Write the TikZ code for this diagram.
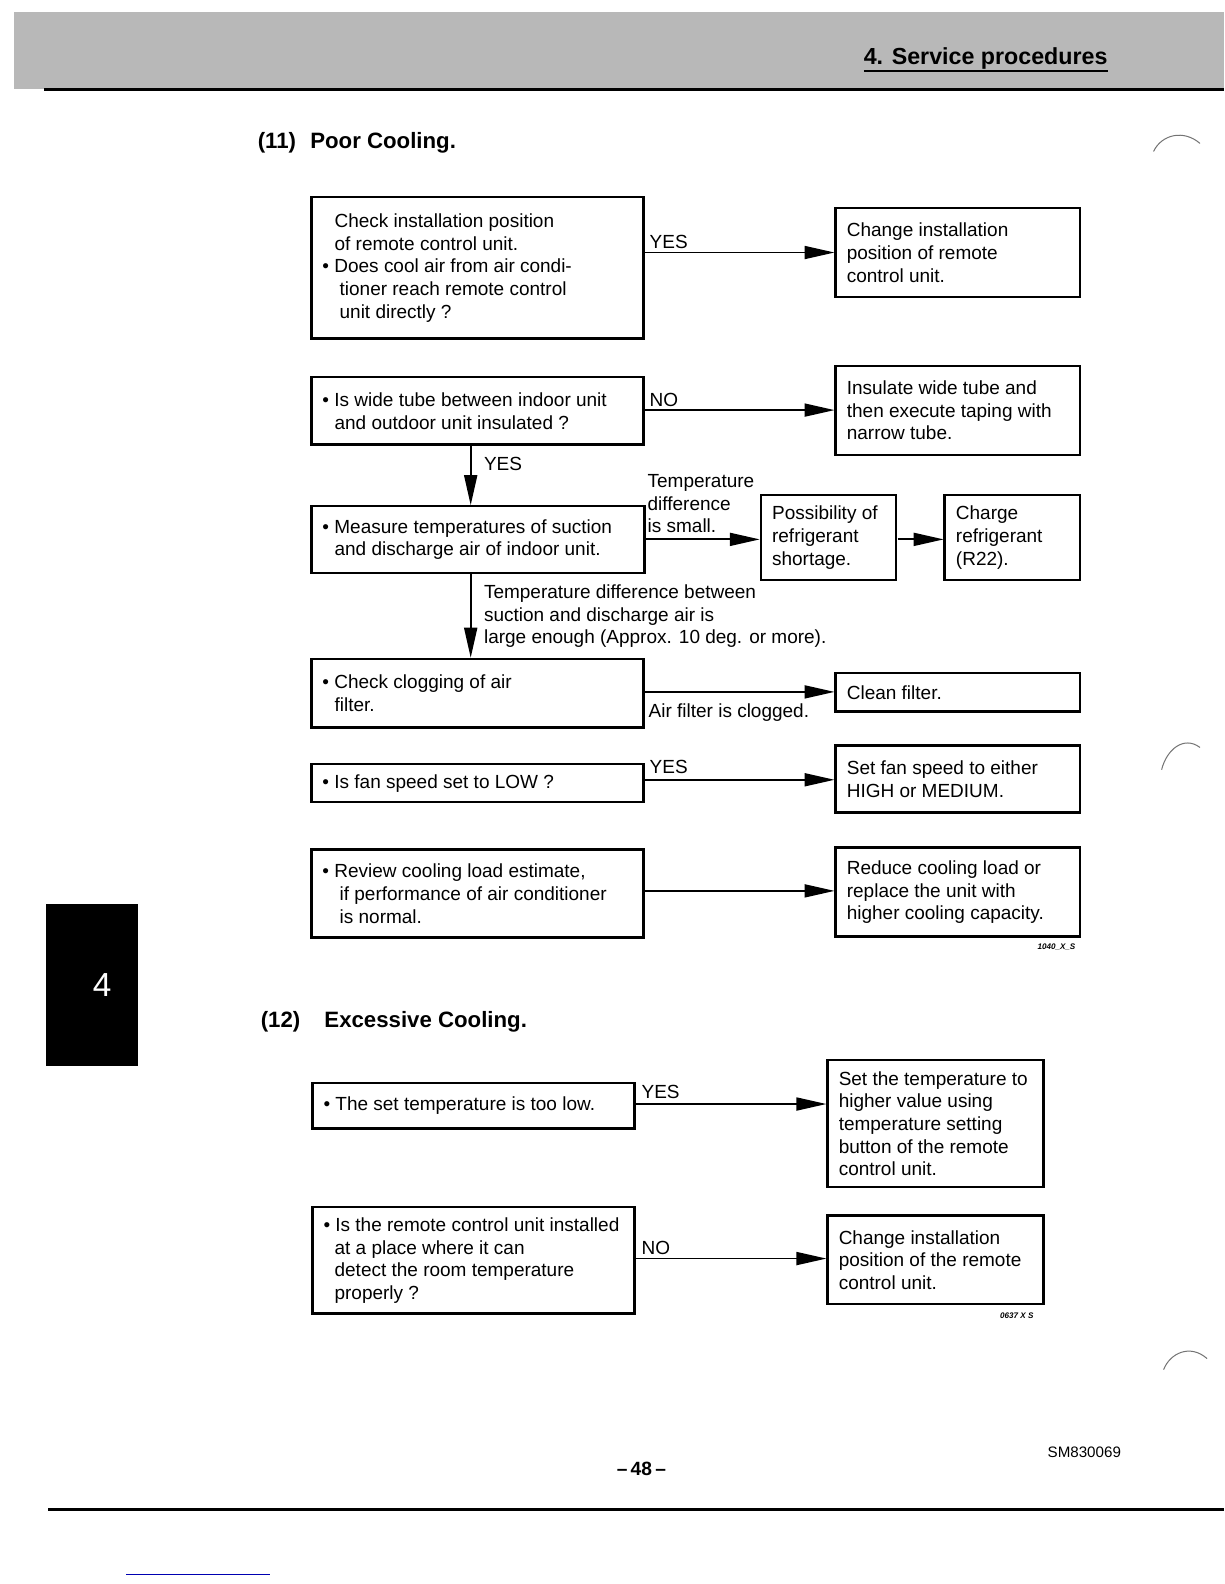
\documentclass[tikz,border=0pt]{standalone}
\usepackage{fontspec}
\setmainfont{Liberation Sans}
\usetikzlibrary{arrows.meta,calc}
\begin{document}
\begin{tikzpicture}[x=1pt,y=-1pt,scale=1.0101,transform shape,
  box/.style={draw, line width=2.4pt, anchor=north west, inner sep=0pt},
  txt/.style={font=\fontsize{18.8}{22.5}\selectfont, align=left, inner sep=0pt, anchor=west},
  lbl/.style={font=\fontsize{18.8}{22.5}\selectfont, inner sep=0pt, anchor=base west},
  mlbl/.style={font=\fontsize{18.8}{22.5}\selectfont, align=left, inner sep=0pt, anchor=north west},
  ttl/.style={font=\fontsize{22}{26}\selectfont\bfseries, inner sep=0pt, anchor=base west},
  code/.style={font=\fontsize{8}{9}\selectfont\bfseries\itshape, inner sep=0pt, anchor=base west},
  arr/.style={line width=1.8pt, -{Triangle[length=30pt,width=13pt]}},
  bindermark/.style={draw=black!55, line width=1pt}]
\useasboundingbox (0,0) rectangle (1211.8,1568.2);
\fill[white] (0,0) rectangle (1211.8,1568.2);
% header
\fill[black!28] (14,12) rectangle (1211.8,88);
\draw[line width=3pt] (44,89) -- (1211.8,89);
\node[font=\fontsize{23}{26}\selectfont\bfseries, inner sep=0pt, anchor=base west] (hdr) at (855,64) {4. Service procedures};
\draw[line width=2pt] (hdr.south west |- 0,70) -- (hdr.south east |- 0,70);
% side tab
\fill[black] (46,895) rectangle (137,1055);
\node[white, font=\fontsize{33}{33}\selectfont, inner sep=0pt] (tab) at (101,975) {4};
% binder marks
\draw[bindermark] (1142,150) .. controls (1150,133) and (1172,128) .. (1188,142);
\draw[bindermark] (1150,762) .. controls (1155,742) and (1172,728) .. (1188,740);
\draw[bindermark] (1152,1356) .. controls (1158,1340) and (1178,1330) .. (1195,1345);

% ---------------- (11) ----------------
\node[ttl] (t11a) at (255,147) {(11)};
\node[ttl] (t11b) at (307,147) {Poor Cooling.};

\node[box, minimum width=329pt, minimum height=140pt] (A) at (307,194) {};
\node[txt] (At) at ($(A.west)+(12,0)$) {\hspace*{12pt}Check installation position\\\hspace*{12pt}of remote control unit.\\• Does cool air from air condi-\\\hspace*{17pt}tioner reach remote control\\\hspace*{17pt}unit directly ?};
\node[box, minimum width=242pt, minimum height=88pt] (B) at (826,205) {};
\node[txt] (Bt) at ($(B.west)+(12,0)$) {Change installation\\position of remote\\control unit.};
\draw[arr] (A.east |- 0,250) -- (B.west |- 0,250);
\node[lbl] (yes1) at (643,246) {YES};

\node[box, minimum width=329pt, minimum height=67pt] (C) at (307,372) {};
\node[txt] (Ct) at ($(C.west)+(12,0)$) {• Is wide tube between indoor unit\\\hspace*{12pt}and outdoor unit insulated ?};
\node[box, minimum width=242pt, minimum height=88pt] (D) at (826,361) {};
\node[txt] (Dt) at ($(D.west)+(12,0)$) {Insulate wide tube and\\then execute taping with\\narrow tube.};
\draw[arr] (C.east |- 0,406) -- (D.west |- 0,406);
\node[lbl] (no1) at (643,402) {NO};

\node[box, minimum width=330pt, minimum height=66pt] (E) at (307,500) {};
\node[txt] (Et) at ($(E.west)+(12,0)$) {• Measure temperatures of suction\\\hspace*{12pt}and discharge air of indoor unit.};
\draw[arr] (466,0 |- C.south) -- (466,0 |- E.north);
\node[lbl] (yes2) at (479,466) {YES};

\node[box, minimum width=134pt, minimum height=84pt] (F) at (752,489) {};
\node[txt] (Ft) at ($(F.west)+(12,0)$) {Possibility of\\refrigerant\\shortage.};
\node[box, minimum width=134pt, minimum height=84pt] (G) at (934,489) {};
\node[txt] (Gt) at ($(G.west)+(12,0)$) {Charge\\refrigerant\\(R22).};
\draw[arr] (E.east |- 0,534) -- (F.west |- 0,534);
\draw[arr] (F.east |- 0,534) -- (G.west |- 0,534);
\node[mlbl] (small) at (641,469.5) {Temperature\\difference\\is small.};

\node[box, minimum width=329pt, minimum height=68pt] (H) at (307,651) {};
\node[txt] (Ht) at ($(H.west)+(12,0)$) {• Check clogging of air\\\hspace*{12pt}filter.};
\draw[arr] (466,0 |- E.south) -- (466,0 |- H.north);
\node[mlbl] (large) at (479,578.5) {Temperature difference between\\suction and discharge air is\\large enough (Approx. 10 deg. or more).};

\node[box, minimum width=242pt, minimum height=38pt] (I) at (826,665) {};
\node[txt] (It) at ($(I.west)+(12,0)$) {Clean filter.};
\draw[arr] (H.east |- 0,685) -- (I.west |- 0,685);
\node[lbl] (clog) at (642,710) {Air filter is clogged.};

\node[box, minimum width=329pt, minimum height=38pt] (J) at (307,755) {};
\node[txt] (Jt) at ($(J.west)+(12,0)$) {• Is fan speed set to LOW ?};
\node[box, minimum width=242pt, minimum height=66pt] (K) at (826,737) {};
\node[txt] (Kt) at ($(K.west)+(12,0)$) {Set fan speed to either\\HIGH or MEDIUM.};
\draw[arr] (J.east |- 0,772) -- (K.west |- 0,772);
\node[lbl] (yes3) at (643,766) {YES};

\node[box, minimum width=329pt, minimum height=87pt] (L) at (307,840) {};
\node[txt] (Lt) at ($(L.west)+(12,0)$) {• Review cooling load estimate,\\\hspace*{17pt}if performance of air conditioner\\\hspace*{17pt}is normal.};
\node[box, minimum width=242pt, minimum height=88pt] (M) at (826,838) {};
\node[txt] (Mt) at ($(M.west)+(12,0)$) {Reduce cooling load or\\replace the unit with\\higher cooling capacity.};
\draw[arr] (L.east |- 0,882) -- (M.west |- 0,882);
\node[code] (c1) at (1027,940) {1040\_X\_S};

% ---------------- (12) ----------------
\node[ttl] (t12a) at (258,1017) {(12)};
\node[ttl] (t12b) at (321,1017) {Excessive Cooling.};

\node[box, minimum width=319pt, minimum height=45pt] (N) at (308,1071) {};
\node[txt] (Nt) at ($(N.west)+(12,0)$) {• The set temperature is too low.};
\node[box, minimum width=214pt, minimum height=126pt] (O) at (818,1048) {};
\node[txt] (Ot) at ($(O.west)+(12,0)$) {Set the temperature to\\higher value using\\temperature setting\\button of the remote\\control unit.};
\draw[arr] (N.east |- 0,1093) -- (O.west |- 0,1093);
\node[lbl] (yes4) at (635,1088) {YES};

\node[box, minimum width=319pt, minimum height=105pt] (P) at (308,1194) {};
\node[txt] (Pt) at ($(P.west)+(12,0)$) {• Is the remote control unit installed\\\hspace*{11pt}at a place where it can\\\hspace*{11pt}detect the room temperature\\\hspace*{11pt}properly ?};
\node[box, minimum width=214pt, minimum height=88pt] (Q) at (818,1202) {};
\node[txt] (Qt) at ($(Q.west)+(12,0)$) {Change installation\\position of the remote\\control unit.};
\draw[arr] (P.east |- 0,1246) -- (Q.west |- 0,1246);
\node[lbl] (no2) at (635,1242) {NO};
\node[code] (c2) at (990,1305) {0637 X S};

% footer
\node[font=\fontsize{15}{17}\selectfont, inner sep=0pt, anchor=base west] (sm) at (1037,1443) {SM830069};
\node[font=\fontsize{19}{21}\selectfont\bfseries, inner sep=0pt, anchor=base] (pg) at (635,1461) {–\,48\,–};
\draw[line width=3pt] (48,1494) -- (1211.8,1494);
\draw[blue!70!black, line width=1.5pt] (125,1559) -- (267,1559);
\end{tikzpicture}
\end{document}
